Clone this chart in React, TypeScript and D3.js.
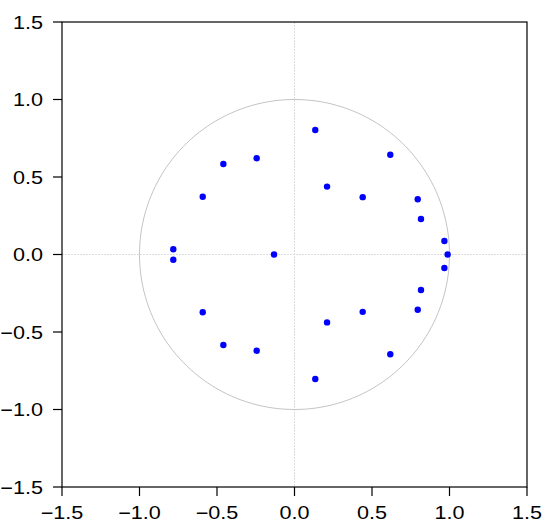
import * as d3 from "d3";

// inverse roots of the AR characteristic polynomial
const rootRe = [
  -0.244, -0.459, -0.592, -0.782, 0.134, 0.618, 0.210, 0.440, 0.795, 0.816, 0.967,
  -0.244, -0.459, -0.592, -0.782, 0.134, 0.618, 0.210, 0.440, 0.795, 0.816, 0.967,
  -0.132, 0.988,
];
const rootIm = [
  0.621, 0.584, 0.373, 0.034, 0.803, 0.644, 0.438, 0.370, 0.356, 0.229, 0.087,
  -0.621, -0.584, -0.373, -0.034, -0.803, -0.644, -0.438, -0.370, -0.356, -0.229, -0.087,
  0.0, 0.0,
];
const ticks = [-1.5, -1.0, -0.5, 0.0, 0.5, 1.0, 1.5];

const W = 550;
const H = 530;
const margin = { top: 22, right: 23, bottom: 43, left: 62 };

export default function App() {
  const x = d3.scaleLinear().domain([-1.5, 1.5]).range([margin.left, W - margin.right]);
  const y = d3.scaleLinear().domain([-1.5, 1.5]).range([H - margin.bottom, margin.top]);
  const unitCircle = d3.range(0, 361, 2).map((a) => [Math.cos((a * Math.PI) / 180), Math.sin((a * Math.PI) / 180)] as [number, number]);
  const circlePath = d3.line<[number, number]>().x((d) => x(d[0])).y((d) => y(d[1]))(unitCircle) ?? "";
  const fmt = d3.format(".1f");
  const tickLen = 9;
  const font = "'Liberation Sans', Arial, sans-serif";

  return (
    <svg
      width={W}
      height={H}
      style={{ position: "absolute", left: 0, top: 0, background: "#fff" }}
      fontFamily={font}
    >
      {/* zero lines */}
      <line x1={x(0)} x2={x(0)} y1={y(1.5)} y2={y(-1.5)} stroke="#dcdcdc" strokeDasharray="2,1" />
      <line x1={x(-1.5)} x2={x(1.5)} y1={y(0)} y2={y(0)} stroke="#dcdcdc" strokeDasharray="2,1" />
      <path d={circlePath} fill="none" stroke="#c4c4c4" strokeWidth={1} />

      {rootRe.map((re, i) => (
        <circle key={i} cx={x(re)} cy={y(rootIm[i])} r={3.2} fill="#0000ff" />
      ))}

      {/* frame */}
      <rect
        x={x(-1.5)}
        y={y(1.5)}
        width={x(1.5) - x(-1.5)}
        height={y(-1.5) - y(1.5)}
        fill="none"
        stroke="#000"
        strokeWidth={1.2}
      />

      {ticks.map((t) => (
        <g key={"x" + t}>
          <line x1={x(t)} x2={x(t)} y1={y(-1.5)} y2={y(-1.5) + tickLen} stroke="#000" strokeWidth={1.2} />
          <g transform={`translate(${x(t)},${H - 11}) scale(1.2,1)`}>
            <text textAnchor="middle" fontSize={18} fill="#000">
              {fmt(t)}
            </text>
          </g>
        </g>
      ))}
      {ticks.map((t) => (
        <g key={"y" + t}>
          <line x1={x(-1.5) - tickLen} x2={x(-1.5)} y1={y(t)} y2={y(t)} stroke="#000" strokeWidth={1.2} />
          <g transform={`translate(${x(-1.5) - 19},${y(t) + 6.5}) scale(1.2,1)`}>
            <text textAnchor="end" fontSize={18} fill="#000">
              {fmt(t)}
            </text>
          </g>
        </g>
      ))}
    </svg>
  );
}
